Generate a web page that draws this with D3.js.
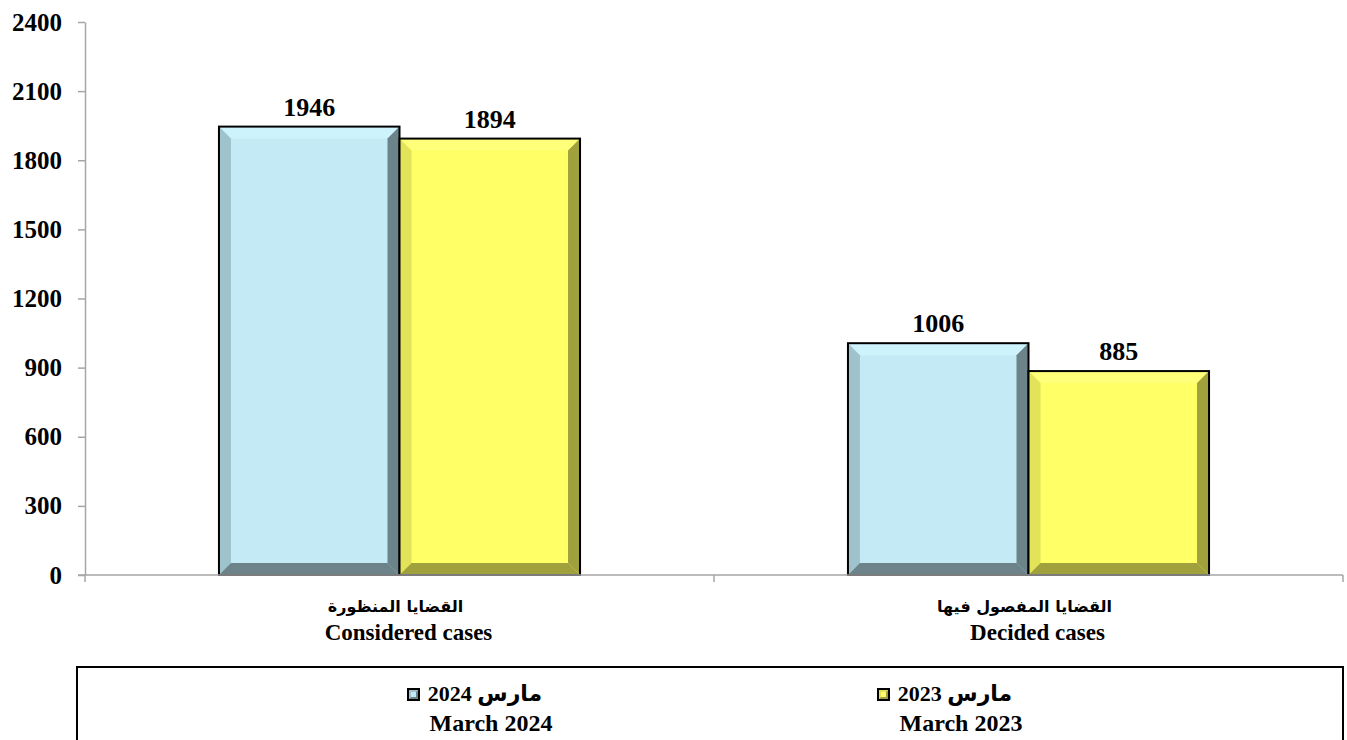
<!DOCTYPE html>
<html>
<head>
<meta charset="utf-8">
<script src="https://cdn.jsdelivr.net/npm/d3@7"></script>
<style>
  body { margin: 0; background: #fff; }
  text { font-family: "Liberation Serif", "Times New Roman", "DejaVu Sans", serif; font-weight: bold; fill: #000; }
</style>
</head>
<body>
<svg id="chart" width="1347" height="740"></svg>
<script>
var categoriesAr = ["القضايا المنظورة", "القضايا المفصول فيها"];
var categoriesEn = ["Considered cases", "Decided cases"];
var seriesAr = ["مارس 2024", "مارس 2023"];
var seriesEn = ["March 2024", "March 2023"];
var values2024 = [1946, 1006];
var values2023 = [1894, 885];
var yTicks = [0, 300, 600, 900, 1200, 1500, 1800, 2100, 2400];

// colours per series: face, top, left, right, bottom
var palette = [
    {face: "#c4ebf5", top: "#cdf4fd", left: "#9fc3cc", right: "#6b8389", bottom: "#6b8389"},
    {face: "#ffff66", top: "#ffff7a", left: "#e3e35a", right: "#a0a03c", bottom: "#a0a03c"}
];

var svg = d3.select("#chart");
var plot = {l: 85, r: 1343, t: 22, b: 575};
var axisColor = "#a6a6a6";

var x = d3.scaleBand()
    .domain(categoriesEn)
    .range([plot.l, plot.r])
    .paddingInner(0).paddingOuter(0);

var xSub = d3.scaleBand()
    .domain([0, 1])
    .range([0, x.bandwidth()])
    .paddingInner(0).paddingOuter(0.742);

var y = d3.scaleLinear()
    .domain([0, 2400])
    .range([plot.b, plot.t]);

// y axis
var yAxis = svg.append("g")
    .attr("transform", "translate(" + plot.l + ",0)")
    .call(d3.axisLeft(y).tickValues(yTicks).tickFormat(d3.format("d"))
        .tickSize(7).tickPadding(16).tickSizeOuter(0));
yAxis.select(".domain").attr("stroke", axisColor).attr("stroke-width", 1.5);
yAxis.selectAll(".tick line").attr("stroke", axisColor).attr("stroke-width", 1.5);
yAxis.selectAll(".tick text")
    .style("font-size", "25px")
    .style("font-family", "'Liberation Serif', serif")
    .style("font-weight", "bold")
    .attr("fill", "#000");

// bars with bevel
var series = [values2024, values2023];
var b = 12;
series.forEach(function(vals, s) {
    var c = palette[s];
    vals.forEach(function(v, i) {
        var x0 = x(categoriesEn[i]) + xSub(s);
        var x1 = x0 + xSub.bandwidth();
        var y0 = y(v);
        var y1 = y(0);
        var g = svg.append("g");
        g.append("rect").attr("x", x0).attr("y", y0).attr("width", x1 - x0).attr("height", y1 - y0).attr("fill", c.face);
        var polys = [
            [[x0, y0], [x1, y0], [x1 - b, y0 + b], [x0 + b, y0 + b], c.top],
            [[x0, y0], [x0 + b, y0 + b], [x0 + b, y1 - b], [x0, y1], c.left],
            [[x1, y0], [x1, y1], [x1 - b, y1 - b], [x1 - b, y0 + b], c.right],
            [[x0, y1], [x1, y1], [x1 - b, y1 - b], [x0 + b, y1 - b], c.bottom]
        ];
        polys.forEach(function(p) {
            g.append("polygon")
                .attr("points", p.slice(0, 4).map(function(q) { return q.join(","); }).join(" "))
                .attr("fill", p[4]);
        });
        g.append("rect").attr("x", x0).attr("y", y0).attr("width", x1 - x0).attr("height", y1 - y0)
            .attr("fill", "none").attr("stroke", "#000").attr("stroke-width", 2);
        svg.append("text")
            .attr("x", (x0 + x1) / 2)
            .attr("y", y0 - 11)
            .attr("text-anchor", "middle")
            .style("font-size", "26px")
            .text(v);
    });
});

// x axis
svg.append("line")
    .attr("x1", plot.l - 7).attr("x2", plot.r)
    .attr("y1", plot.b).attr("y2", plot.b)
    .attr("stroke", axisColor).attr("stroke-width", 1.5);
var bounds = categoriesEn.map(function(d) { return x(d); }).concat([plot.r]);
bounds.forEach(function(bx) {
    svg.append("line")
        .attr("x1", bx).attr("x2", bx)
        .attr("y1", plot.b).attr("y2", plot.b + 7)
        .attr("stroke", axisColor).attr("stroke-width", 1.5);
});

// category labels
categoriesEn.forEach(function(d, i) {
    var cx = x(d) + x.bandwidth() / 2;
    svg.append("text")
        .attr("x", cx - 4).attr("y", 612)
        .attr("text-anchor", "middle")
        .attr("direction", "rtl")
        .style("font-family", "'DejaVu Sans', sans-serif")
        .style("font-size", "16px")
        .text(categoriesAr[i]);
    svg.append("text")
        .attr("x", cx + 9).attr("y", 640)
        .attr("text-anchor", "middle")
        .style("font-size", "23px")
        .text(d);
});

// legend
svg.append("rect")
    .attr("x", 77).attr("y", 667)
    .attr("width", 1266).attr("height", 100)
    .attr("fill", "#fff").attr("stroke", "#000").attr("stroke-width", 2);

var legendX = [408, 878];
seriesEn.forEach(function(d, s) {
    var c = palette[s];
    var lx = legendX[s], ly = 689;
    var m = 11;
    var lg = svg.append("g");
    lg.append("rect").attr("x", lx).attr("y", ly).attr("width", m).attr("height", m).attr("fill", c.face);
    lg.append("polygon")
        .attr("points", [[lx, ly], [lx + m, ly], [lx, ly + m]].map(function(q) { return q.join(","); }).join(" "))
        .attr("fill", c.left);
    lg.append("polygon")
        .attr("points", [[lx + m, ly], [lx + m, ly + m], [lx, ly + m]].map(function(q) { return q.join(","); }).join(" "))
        .attr("fill", c.right);
    lg.append("rect").attr("x", lx + 3).attr("y", ly + 3).attr("width", m - 6).attr("height", m - 6).attr("fill", c.face);
    lg.append("rect").attr("x", lx).attr("y", ly).attr("width", m).attr("height", m)
        .attr("fill", "none").attr("stroke", "#000").attr("stroke-width", 2);
    svg.append("text")
        .attr("x", lx + 77).attr("y", ly + 12)
        .attr("text-anchor", "middle")
        .attr("direction", "rtl")
        .style("font-size", "22px")
        .text(seriesAr[s]);
    svg.append("text")
        .attr("x", lx + 83).attr("y", ly + 42)
        .attr("text-anchor", "middle")
        .style("font-size", "24px")
        .text(d);
});
</script>
</body>
</html>
